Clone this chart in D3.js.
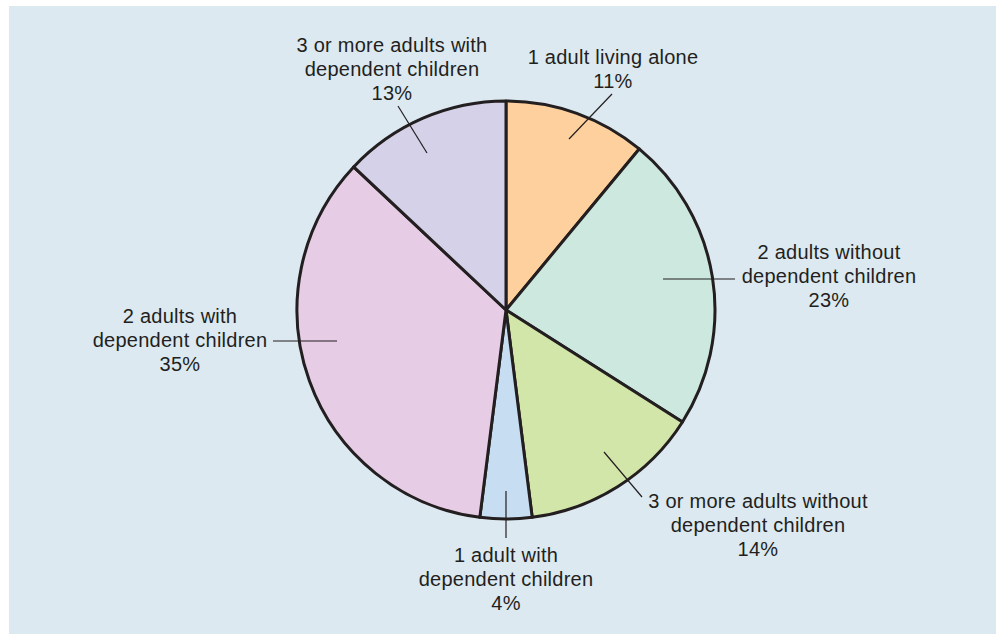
<!DOCTYPE html>
<html>
<head>
<meta charset="utf-8">
<script src="https://cdn.jsdelivr.net/npm/d3@7"></script>
<style>
  body { margin: 0; background: #fff; }
  text { font-family: "Liberation Sans", Arial, sans-serif; fill: #231f20; letter-spacing: 0.25px; }
</style>
</head>
<body>
<div id="chart"></div>
<script>
// household types, clockwise from 12 o'clock
var categories = [
  "1 adult living alone",
  "2 adults without dependent children",
  "3 or more adults without dependent children",
  "1 adult with dependent children",
  "2 adults with dependent children",
  "3 or more adults with dependent children"
];
var shares = [11, 23, 14, 4, 35, 13];
var labelLines = [
  ["1 adult living alone", "11%"],
  ["2 adults without", "dependent children", "23%"],
  ["3 or more adults without", "dependent children", "14%"],
  ["1 adult with", "dependent children", "4%"],
  ["2 adults with", "dependent children", "35%"],
  ["3 or more adults with", "dependent children", "13%"]
];
var colors = ["#fed09d", "#cde8de", "#d3e6a9", "#c6ddf2", "#e6cce4", "#d4d1e9"];

var svgWidth = 996;
var svgHeight = 634;
var cx = 506, cy = 310, radius = 209;

// label placement (relative to pie centre): leader start, leader end, text centre x, first baseline
var labelLayout = [
  { x1: 63, y1: -171, x2: 106, y2: -216, tx: 107, ty: -246 },
  { x1: 157, y1: -31, x2: 229, y2: -31, tx: 323, ty: -51 },
  { x1: 98, y1: 142, x2: 136, y2: 187, tx: 252, ty: 198 },
  { x1: 0, y1: 181, x2: 0, y2: 228, tx: 0, ty: 252 },
  { x1: -169, y1: 31, x2: -233, y2: 31, tx: -326, ty: 13 },
  { x1: -79, y1: -157, x2: -108, y2: -204, tx: -114, ty: -258 }
];

var svg = d3.select("#chart")
  .append("svg")
  .attr("width", svgWidth)
  .attr("height", svgHeight);

// panel background
svg.append("rect")
  .attr("x", 9)
  .attr("y", 6)
  .attr("width", svgWidth - 9)
  .attr("height", svgHeight - 6)
  .attr("fill", "#dce9f1");

var chartGroup = svg.append("g")
  .attr("transform", `translate(${cx}, ${cy})`);

var pie = d3.pie().sort(null).value(d => d);
var arc = d3.arc().innerRadius(0).outerRadius(radius);
var arcs = pie(shares);

chartGroup.selectAll("path.slice")
  .data(arcs)
  .enter()
  .append("path")
  .attr("class", "slice")
  .attr("d", arc)
  .attr("fill", (d, i) => colors[i])
  .attr("stroke", "#231f20")
  .attr("stroke-width", 3)
  .attr("stroke-linejoin", "round");

// leader lines
chartGroup.selectAll("line.leader")
  .data(labelLayout)
  .enter()
  .append("line")
  .attr("class", "leader")
  .attr("x1", d => d.x1)
  .attr("y1", d => d.y1)
  .attr("x2", d => d.x2)
  .attr("y2", d => d.y2)
  .attr("stroke", "#231f20")
  .attr("stroke-width", 1.2);

// labels
var labels = chartGroup.selectAll("text.label")
  .data(labelLines)
  .enter()
  .append("text")
  .attr("class", "label")
  .attr("text-anchor", "middle")
  .attr("font-size", "20px");

labels.each(function(lines, i) {
  var pos = labelLayout[i];
  d3.select(this).selectAll("tspan")
    .data(lines)
    .enter()
    .append("tspan")
    .attr("x", pos.tx)
    .attr("y", (d, j) => pos.ty + j * 24)
    .text(d => d);
});
</script>
</body>
</html>
